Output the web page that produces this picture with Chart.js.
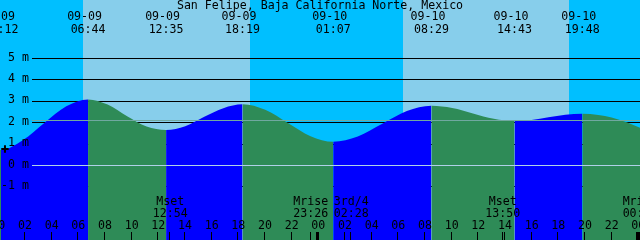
<!DOCTYPE html>
<html>
<head>
<meta charset="utf-8">
<script src="https://cdn.jsdelivr.net/npm/chart.js@4/dist/chart.umd.min.js"></script>
<style>
html,body{margin:0;padding:0;background:#00BFFF;}
canvas{display:block;}
</style>
</head>
<body>
<canvas id="c" width="640" height="240"></canvas>
<script>
// ---- data (hours from 09-09 00:00, heights in metres) ----
const tideTimes   = [0, 0.2, 1.83, 3.47, 5.1, 6.733, 8.2, 9.66, 11.12, 12.583, 14.02, 15.45, 16.88, 18.317, 20.02, 21.72, 23.42, 25.117, 26.96, 28.8, 30.64, 32.483, 34.04, 35.6, 37.16, 38.717, 39.99, 41.26, 42.53, 43.8, 45.0, 46.0, 47.13, 48.2];
const tideHeights = [0.73, 0.72, 1.18, 2.0, 2.77, 3.09, 2.85, 2.30, 1.82, 1.66, 1.84, 2.28, 2.68, 2.86, 2.60, 1.985, 1.37, 1.11, 1.355, 1.95, 2.545, 2.79, 2.686, 2.435, 2.184, 2.08, 2.13, 2.25, 2.37, 2.42, 2.36, 2.24, 2.02, 1.74];

const tideEventDates = ["09-09", "09-09", "09-09", "09-09", "09-10", "09-10", "09-10", "09-10"];
const tideEventTimes = ["00:12", "06:44", "12:35", "18:19", "01:07", "08:29", "14:43", "19:48"];

const moonEventNames = ["Mset", "Mrise", "3rd/4", "Mset", "Mrise"];
const moonEventDates = ["09-09", "09-09", "09-10", "09-10", "09-11"];
const moonEventTimes = ["12:54", "23:26", "02:28", "13:50", "00:08"];

const sunriseDates = ["09-09", "09-10"];
const sunriseTimes = ["06:21", "06:22"];
const sunsetDates  = ["09-09", "09-10"];
const sunsetTimes  = ["18:53", "18:48"];

const hourTicks = [0, 2, 4, 6, 8, 10, 12, 14, 16, 18, 20, 22, 24, 26, 28, 30, 32, 34, 36, 38, 40, 42, 44, 46, 48];
const hourTickLabels = ["00","02","04","06","08","10","12","14","16","18","20","22","00","02","04","06","08","10","12","14","16","18","20","22","00"];

const levelTicks = [-1, 0, 1, 2, 3, 4, 5];
const levelTickLabels = ["-1 m", "0 m", "1 m", "2 m", "3 m", "4 m", "5 m"];

const meanLevel = 2.1;
const datumLevel = 0;
const markTime = 0.5;
const markHeight = 0.77;

const title = "San Felipe, Baja California Norte, Mexico";

// ---- helpers ----
const dayIndex = { "09-09": 0, "09-10": 1, "09-11": 2 };
function toHours(date, time) {
  const [h, m] = time.split(":").map(Number);
  return dayIndex[date] * 24 + h + m / 60;
}

const NIGHT = "#00BFFF", DAY = "#87CEEB", RISING = "#0000FF", FALLING = "#2E8B57";
const FONT = "11.6px 'DejaVu Sans Mono', 'Liberation Mono', monospace";
const GRID_LEFT = 32;

const tidePlugin = {
  id: "tidePlugin",
  beforeDraw(chart) {
    const { ctx, scales: { x } } = chart;
    ctx.save();
    ctx.fillStyle = NIGHT;
    ctx.fillRect(0, 0, chart.width, chart.height);
    ctx.fillStyle = DAY;
    for (let i = 0; i < sunriseTimes.length; i++) {
      const x0 = Math.round(x.getPixelForValue(toHours(sunriseDates[i], sunriseTimes[i])));
      const x1 = Math.round(x.getPixelForValue(toHours(sunsetDates[i], sunsetTimes[i])));
      ctx.fillRect(x0, 0, x1 - x0, chart.height);
    }
    ctx.restore();
  },
  beforeDatasetsDraw(chart) {
    const { ctx, scales: { y } } = chart;
    ctx.save();
    ctx.strokeStyle = "#000";
    ctx.lineWidth = 1;
    for (const v of levelTicks) {
      const py = Math.floor(y.getPixelForValue(v)) + 0.5;
      ctx.beginPath();
      ctx.moveTo(GRID_LEFT, py);
      ctx.lineTo(chart.width, py);
      ctx.stroke();
    }
    ctx.restore();
  },
  afterDatasetsDraw(chart) {
    const { ctx, scales: { x, y } } = chart;
    ctx.save();
    // mean and datum lines
    ctx.lineWidth = 1;
    ctx.strokeStyle = "#70a8a0";
    let py = Math.floor(y.getPixelForValue(meanLevel)) + 0.5;
    ctx.beginPath(); ctx.moveTo(GRID_LEFT, py); ctx.lineTo(chart.width, py); ctx.stroke();
    ctx.strokeStyle = "#b0d0e8";
    py = Math.floor(y.getPixelForValue(datumLevel)) + 0.5;
    ctx.beginPath(); ctx.moveTo(GRID_LEFT, py); ctx.lineTo(chart.width, py); ctx.stroke();

    ctx.fillStyle = "#000";
    ctx.font = FONT;
    ctx.textBaseline = "middle";

    // level labels
    ctx.textAlign = "right";
    levelTicks.forEach((v, i) => {
      ctx.fillText(levelTickLabels[i], 29, y.getPixelForValue(v) - 1);
    });

    // hour tick marks & labels
    ctx.textAlign = "center";
    hourTicks.forEach((t, i) => {
      const px = x.getPixelForValue(t);
      if (hourTickLabels[i] === "00") {
        ctx.fillRect(Math.round(px) - 2, 232, 3, 8);
      } else {
        ctx.fillRect(Math.round(px) - 1, 232, 1, 8);
      }
      ctx.fillText(hourTickLabels[i], px, 225.5);
    });

    // moon events
    moonEventNames.forEach((name, i) => {
      const px = x.getPixelForValue(toHours(moonEventDates[i], moonEventTimes[i]));
      ctx.fillRect(Math.round(px) - 1, 232, 1, 8);
      ctx.fillText(name, px, 202);
      ctx.fillText(moonEventTimes[i], px, 213.5);
    });

    // tide event labels at top
    tideEventTimes.forEach((tm, i) => {
      const px = x.getPixelForValue(toHours(tideEventDates[i], tm));
      ctx.fillText(tideEventDates[i], px - 3.5, 17);
      ctx.fillText(tm, px, 29.5);
    });

    // title
    ctx.fillText(title, chart.width / 2, 6);
    ctx.restore();
  }
};

new Chart(document.getElementById("c"), {
  type: "line",
  data: {
    datasets: [
      {
        type: "scatter",
        data: [{ x: markTime, y: markHeight }],
        pointStyle: "cross",
        pointRadius: 3.7,
        pointBorderWidth: 2,
        borderColor: "#000",
        backgroundColor: "#000",
        clip: false,
        order: 0
      },
      {
        data: tideTimes.map((t, i) => ({ x: t, y: tideHeights[i] })),
        fill: "start",
        borderWidth: 0,
        borderColor: "rgba(0,0,0,0)",
        backgroundColor: FALLING,
        pointRadius: 0,
        cubicInterpolationMode: "monotone",
        segment: {
          backgroundColor: (c) => (c.p1.parsed.y >= c.p0.parsed.y ? RISING : FALLING)
        },
        order: 1
      }
    ]
  },
  options: {
    responsive: false,
    devicePixelRatio: 1,
    animation: false,
    layout: { padding: 0, autoPadding: false },
    plugins: { legend: { display: false }, tooltip: { enabled: false }, title: { display: false } },
    scales: {
      x: { type: "linear", min: 0.127, max: 48.127, display: false },
      y: { type: "linear", min: -3.481, max: 7.734, display: false }
    }
  },
  plugins: [tidePlugin]
});
</script>
</body>
</html>
